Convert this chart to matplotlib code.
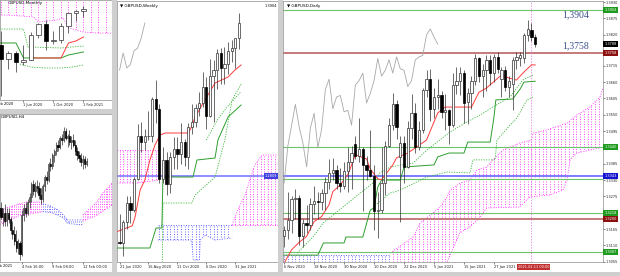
import matplotlib
matplotlib.use("Agg")
import matplotlib.pyplot as plt
import numpy as np
from matplotlib.patches import Polygon, Rectangle
from matplotlib.transforms import blended_transform_factory

W, H = 620, 276

EDGE = "#303030"
RED = "#ff3b3b"
GREEN = "#2e9e2e"
DOT_GREEN = "#3cb83c"
LEVEL_GREEN = "#6cc46c"
LEVEL_RED = "#c47a7a"
LEVEL_BLUE = "#7b7bff"
MAGENTA = "#ff33ff"
BLUE = "#5a5aff"
CHIKOU = "#a8a8a8"
BAND = "#cfcfcf"
TICK_FS = 2.6

# ---------------- Daily (6 Nov 2020 .. 12 Feb 2021) ----------------
daily_open = [1.3140, 1.3160, 1.3195, 1.3265, 1.3270, 1.3140, 1.3185, 1.3180, 1.3250, 1.3260,
              1.3255, 1.3285, 1.3325, 1.3355, 1.3365, 1.3320, 1.3310, 1.3360, 1.3390, 1.3450,
              1.3410, 1.3435, 1.3380, 1.3365, 1.3345, 1.3225, 1.3230, 1.3320, 1.3445, 1.3515,
              1.3585, 1.3408, 1.3455, 1.3375, 1.3505, 1.3555, 1.3440, 1.3500, 1.3635, 1.3670,
              1.3570, 1.3610, 1.3615, 1.3560, 1.3565, 1.3515, 1.3650, 1.3665, 1.3690, 1.3592,
              1.3622, 1.3665, 1.3740, 1.3680, 1.3700, 1.3735, 1.3690, 1.3745, 1.3672, 1.3700,
              1.3645, 1.3655, 1.3735, 1.3740, 1.3740, 1.3819, 1.3836, 1.3812]
daily_high = [1.3175, 1.3290, 1.3275, 1.3300, 1.3280, 1.3200, 1.3245, 1.3270, 1.3310, 1.3290,
              1.3300, 1.3340, 1.3400, 1.3405, 1.3380, 1.3370, 1.3390, 1.3440, 1.3445, 1.3480,
              1.3540, 1.3440, 1.3410, 1.3500, 1.3380, 1.3290, 1.3440, 1.3460, 1.3540, 1.3625,
              1.3600, 1.3480, 1.3480, 1.3530, 1.3620, 1.3590, 1.3530, 1.3640, 1.3700, 1.3705,
              1.3640, 1.3670, 1.3630, 1.3620, 1.3570, 1.3690, 1.3710, 1.3710, 1.3700, 1.3640,
              1.3680, 1.3755, 1.3745, 1.3720, 1.3750, 1.3750, 1.3755, 1.3760, 1.3710, 1.3715,
              1.3680, 1.3745, 1.3760, 1.3760, 1.3825, 1.3869, 1.3860, 1.3822]
daily_low = [1.3105, 1.3130, 1.3150, 1.3200, 1.3110, 1.3105, 1.3150, 1.3160, 1.3215, 1.3200,
             1.3230, 1.3230, 1.3300, 1.3330, 1.3300, 1.3290, 1.3300, 1.3290, 1.3300, 1.3400,
             1.3390, 1.3225, 1.3330, 1.3340, 1.3160, 1.3135, 1.3220, 1.3280, 1.3440, 1.3500,
             1.3470, 1.3190, 1.3320, 1.3370, 1.3470, 1.3420, 1.3430, 1.3490, 1.3610, 1.3530,
             1.3540, 1.3570, 1.3540, 1.3500, 1.3450, 1.3510, 1.3620, 1.3615, 1.3522, 1.3520,
             1.3570, 1.3650, 1.3660, 1.3610, 1.3630, 1.3650, 1.3660, 1.3690, 1.3610, 1.3630,
             1.3610, 1.3565, 1.3705, 1.3715, 1.3725, 1.3800, 1.3800, 1.3780]
daily_close = [1.3160, 1.3195, 1.3265, 1.3270, 1.3140, 1.3185, 1.3180, 1.3250, 1.3260, 1.3255,
               1.3285, 1.3325, 1.3355, 1.3365, 1.3320, 1.3310, 1.3360, 1.3390, 1.3420, 1.3410,
               1.3435, 1.3380, 1.3365, 1.3345, 1.3225, 1.3230, 1.3320, 1.3445, 1.3515, 1.3585,
               1.3510, 1.3455, 1.3375, 1.3505, 1.3555, 1.3440, 1.3500, 1.3635, 1.3670, 1.3570,
               1.3610, 1.3615, 1.3560, 1.3565, 1.3515, 1.3650, 1.3665, 1.3690, 1.3590, 1.3622,
               1.3665, 1.3740, 1.3680, 1.3700, 1.3735, 1.3690, 1.3745, 1.3705, 1.3700, 1.3645,
               1.3665, 1.3735, 1.3745, 1.3750, 1.3819, 1.3839, 1.3812, 1.3788]
daily_tick_pos = [0, 8, 16, 24, 32, 40, 48, 56]
daily_tick_labels = ["6 Nov 2020", "18 Nov 2020", "30 Nov 2020", "10 Dec 2020",
                     "22 Dec 2020", "5 Jan 2021", "15 Jan 2021", "27 Jan 2021"]
daily_price_ticks = [1.3930, 1.3875, 1.3820, 1.3715, 1.3660, 1.3605, 1.3550, 1.3495,
                     1.3385, 1.3330, 1.3275, 1.3165, 1.3110, 1.3055]
daily_tenkan = [(0, 1.3050), (2, 1.3095), (4, 1.3120), (6, 1.3140), (8, 1.3190), (10, 1.3207),
                (12, 1.3247), (13, 1.3291), (15, 1.3314), (17, 1.3348), (18, 1.3381), (19, 1.3415),
                (22, 1.3401), (23, 1.3367), (25, 1.3334), (26, 1.3331), (27, 1.3348), (29, 1.3381),
                (30, 1.3405), (33, 1.3421), (35, 1.3438), (38, 1.3465), (41, 1.3556), (43, 1.3576),
                (50, 1.3576), (52, 1.3626), (54, 1.3640), (58, 1.3684), (60, 1.3674), (62, 1.3667),
                (64, 1.3694), (66, 1.3718), (67, 1.3718)]
daily_kijun = [(0, 1.3077), (9, 1.3077), (10.5, 1.3118), (16, 1.3118), (16.5, 1.3138), (21, 1.3138),
               (23, 1.3229), (24, 1.3236), (25, 1.3307), (26, 1.3330), (31, 1.3330), (32, 1.3374),
               (40, 1.3381), (41, 1.3408), (44, 1.3421), (48, 1.3421), (49, 1.3458), (55, 1.3458),
               (56, 1.3542), (56.5, 1.3600), (61, 1.3603), (63, 1.3637), (64, 1.3660), (67, 1.3663)]
daily_dotted_1 = [(3.5, 1.3084), (7.7, 1.3138), (10.4, 1.3185), (20.3, 1.3286), (23.7, 1.3320),
                  (25.6, 1.3354), (28.3, 1.3374), (34.4, 1.3387), (38.1, 1.3431), (44.3, 1.3492),
                  (48.8, 1.3526), (52.3, 1.3549), (55.7, 1.3576), (60.3, 1.3610), (63.7, 1.3667),
                  (66.4, 1.3684)]
daily_dotted_2 = [(23.7, 1.3239), (28.3, 1.3286), (30.9, 1.3296), (38.1, 1.3340), (43.5, 1.3357),
                  (49.6, 1.3354), (50.4, 1.3398), (56.3, 1.3398), (56.8, 1.3465), (60.3, 1.3515),
                  (62.1, 1.3539), (64.8, 1.3600), (66.4, 1.3610)]
daily_cloud_blue_top = [(-0.3, 1.3077), (28.3, 1.3077)]
daily_cloud_blue_bottom = [(-0.3, 1.3040), (28.3, 1.3040)]
daily_cloud_top = [(28.3, 1.3084), (34.4, 1.3138), (36.3, 1.3185), (39.7, 1.3219), (41.6, 1.3239),
                   (43.5, 1.3273), (44.3, 1.3296), (47, 1.3320), (49.6, 1.3330), (51.5, 1.3364),
                   (54.1, 1.3374), (55.7, 1.3398), (58.4, 1.3431), (63, 1.3455), (66, 1.3465),
                   (66.4, 1.3488), (70.1, 1.3499), (75.5, 1.3522), (78.1, 1.3549), (81.6, 1.3576),
                   (84.3, 1.3610), (85.1, 1.3640)]
daily_cloud_bottom = [(28.3, 1.3040), (43, 1.3040), (44.3, 1.3077), (46.9, 1.3152), (49.6, 1.3172),
                      (52.3, 1.3205), (54.1, 1.3236), (62.9, 1.3239), (65.6, 1.3273), (70.9, 1.3280),
                      (74.4, 1.3296), (75.5, 1.3330), (76.3, 1.3398), (78.1, 1.3421), (81.6, 1.3431),
                      (85.1, 1.3441)]
level_prices = [1.3904, 1.3758, 1.3440, 1.3343, 1.3335, 1.3218, 1.3200, 1.3087]
level_kinds = ["green", "red", "green", "blue", "green", "green", "red", "green"]
box_prices = [1.3904, 1.3788, 1.3758, 1.3440, 1.3343, 1.3218, 1.3200, 1.3087]
box_colors = ["#1e9a1e", "#000000", "#8b1010", "#1e9a1e", "#1515d0", "#1e9a1e", "#8b1010", "#1e9a1e"]
current_bar = 66

# ---------------- Weekly (21 Jun 2020 .. 7 Feb 2021) ----------------
weekly_open = [1.2350, 1.2340, 1.2485, 1.2620, 1.2570, 1.2790, 1.3090, 1.3050, 1.3090, 1.3090,
               1.3350, 1.3280, 1.2790, 1.2920, 1.2750, 1.2940, 1.3000, 1.2960, 1.3050, 1.2940,
               1.3150, 1.3190, 1.3285, 1.3320, 1.3435, 1.3227, 1.3510, 1.3550, 1.3670, 1.3565,
               1.3590, 1.3685, 1.3705, 1.3775]
weekly_high = [1.2540, 1.2500, 1.2670, 1.2670, 1.2800, 1.3170, 1.3185, 1.3140, 1.3265, 1.3360,
               1.3482, 1.3310, 1.3010, 1.2980, 1.2980, 1.3080, 1.3080, 1.3180, 1.3070, 1.3180,
               1.3312, 1.3310, 1.3400, 1.3540, 1.3500, 1.3625, 1.3620, 1.3700, 1.3705, 1.3710,
               1.3745, 1.3760, 1.3760, 1.3950]
weekly_low = [1.2330, 1.2252, 1.2440, 1.2480, 1.2560, 1.2780, 1.2980, 1.2990, 1.3060, 1.3050,
              1.3180, 1.2760, 1.2760, 1.2675, 1.2690, 1.2860, 1.2860, 1.2890, 1.2880, 1.2855,
              1.3105, 1.3150, 1.3230, 1.3290, 1.3135, 1.3220, 1.3190, 1.3420, 1.3450, 1.3450,
              1.3520, 1.3610, 1.3565, 1.3700]
weekly_close = [1.2340, 1.2485, 1.2620, 1.2570, 1.2790, 1.3090, 1.3050, 1.3090, 1.3090, 1.3350,
                1.3280, 1.2790, 1.2920, 1.2750, 1.2940, 1.3000, 1.2960, 1.3050, 1.2940, 1.3150,
                1.3190, 1.3285, 1.3320, 1.3435, 1.3227, 1.3510, 1.3550, 1.3670, 1.3565, 1.3590,
                1.3685, 1.3705, 1.3775, 1.3880]
weekly_tick_pos = [0, 8, 16, 24, 32]
weekly_tick_labels = ["21 Jun 2020", "16 Aug 2020", "11 Oct 2020", "6 Dec 2020", "31 Jan 2021"]
weekly_tenkan = [(-0.7, 1.2420), (3.5, 1.2460), (4.3, 1.2522), (5.7, 1.2711), (7.0, 1.2781),
                 (8.4, 1.2921), (9.8, 1.3026), (11.2, 1.3096), (12.6, 1.3110), (18.6, 1.3110),
                 (19.5, 1.3131), (20.9, 1.3222), (23.6, 1.3341), (26.4, 1.3460), (30.0, 1.3502),
                 (31.9, 1.3551), (33.6, 1.3586)]
weekly_kijun = [(-0.7, 1.2305), (8.4, 1.2305), (10.1, 1.2445), (11.7, 1.2445), (12.0, 1.2802),
                (20.3, 1.2802), (21.4, 1.2921), (26.4, 1.2935), (27.2, 1.3061), (30.0, 1.3222),
                (33.6, 1.3306)]
weekly_dotted_1 = [(11.8, 1.2150), (12.0, 1.2620), (20.0, 1.2620), (20.9, 1.2676), (26.4, 1.2802),
                   (29.1, 1.3061), (31.1, 1.3341), (33.8, 1.3460)]
weekly_dotted_2 = [(24.0, 1.3061), (27.0, 1.3200), (30.0, 1.3300), (33.6, 1.3400)]
weekly_cloud1_top = [(-0.7, 1.2991), (10.6, 1.2991)]
weekly_cloud1_bottom = [(-0.7, 1.2760), (5, 1.2760), (10.6, 1.2780)]
weekly_cloud2_top = [(10.6, 1.2466), (31.1, 1.2466)]
weekly_cloud2_bottom = [(10.6, 1.2361), (19.9, 1.2361), (20.4, 1.2221), (22.1, 1.2221), (22.3, 1.2361),
                        (23.6, 1.2396), (26.4, 1.2361), (31.1, 1.2375)]
weekly_cloud3_top = [(31.1, 1.2466), (32.7, 1.2571), (34.7, 1.2676), (36.0, 1.2781), (37.4, 1.2886),
                     (39.4, 1.2956), (43.8, 1.2956)]
weekly_cloud3_bottom = [(31.1, 1.2466), (43.8, 1.2466)]
weekly_level = 1.2809

# ---------------- Monthly (Mar 2020 .. Feb 2021) ----------------
monthly_open = [1.2820, 1.2420, 1.2590, 1.2340, 1.2400, 1.3090, 1.3370, 1.2920, 1.2950, 1.3320, 1.3670, 1.3730]
monthly_high = [1.3200, 1.2650, 1.2650, 1.2813, 1.3170, 1.3400, 1.3480, 1.3175, 1.3400, 1.3680, 1.3760, 1.3865]
monthly_low = [1.1410, 1.2160, 1.2075, 1.2252, 1.2400, 1.3000, 1.2675, 1.2840, 1.2850, 1.3140, 1.3450, 1.3570]
monthly_close = [1.2420, 1.2590, 1.2340, 1.2400, 1.3090, 1.3370, 1.2920, 1.2950, 1.3320, 1.3670, 1.3730, 1.3788]
monthly_tick_pos = [-1, 3, 7, 11]
monthly_tick_labels = ["1 Feb 2020", "1 Jun 2020", "1 Oct 2020", "1 Feb 2021"]
monthly_tenkan = [(4, 1.2455), (8, 1.2455), (9, 1.2862), (10, 1.2917), (11, 1.3025)]
monthly_kijun = [(-1, 1.2862), (2, 1.2862), (3, 1.2455), (8, 1.2455), (9, 1.2536), (11, 1.2618)]
monthly_dotted_1 = [(-1, 1.3240), (3, 1.3240), (3.6, 1.2754), (8, 1.2726), (11, 1.2781)]
monthly_dotted_2 = [(2.5, 1.2290), (4, 1.2210), (6, 1.2183), (8, 1.2183), (9.5, 1.2210), (11, 1.2265)]
monthly_cloud_top = [(-1, 1.4500), (15, 1.4500)]
monthly_cloud_bottom = [(-1, 1.3620), (1, 1.3620), (4.3, 1.3570), (5, 1.3430), (7.5, 1.3490),
                        (8.3, 1.3540), (9, 1.3270), (11, 1.3160), (13, 1.3130), (15, 1.3130)]

# ---------------- H4 (bars 4 .. 50 counted from 2 Feb 2021 00:00) ----------------
h4_first = 4
h4_open = [1.3665, 1.3680, 1.3660, 1.3670, 1.3650, 1.3668, 1.3655, 1.3630, 1.3620, 1.3605,
           1.3590, 1.3600, 1.3575, 1.3665, 1.3680, 1.3670, 1.3695, 1.3705, 1.3735, 1.3720,
           1.3730, 1.3725, 1.3710, 1.3700, 1.3730, 1.3750, 1.3745, 1.3780, 1.3775, 1.3800,
           1.3810, 1.3825, 1.3820, 1.3840, 1.3835, 1.3855, 1.3840, 1.3845, 1.3830, 1.3835,
           1.3825, 1.3810, 1.3800, 1.3795, 1.3785, 1.3792, 1.3780]
h4_high = [1.3690, 1.3695, 1.3680, 1.3690, 1.3680, 1.3680, 1.3660, 1.3650, 1.3640, 1.3630,
           1.3610, 1.3605, 1.3675, 1.3690, 1.3695, 1.3700, 1.3715, 1.3740, 1.3745, 1.3740,
           1.3745, 1.3740, 1.3725, 1.3735, 1.3755, 1.3765, 1.3785, 1.3795, 1.3805, 1.3815,
           1.3830, 1.3835, 1.3845, 1.3850, 1.3865, 1.3862, 1.3850, 1.3858, 1.3845, 1.3848,
           1.3835, 1.3820, 1.3810, 1.3805, 1.3800, 1.3798, 1.3795]
h4_low = [1.3650, 1.3655, 1.3640, 1.3640, 1.3640, 1.3645, 1.3620, 1.3610, 1.3595, 1.3580,
          1.3575, 1.3562, 1.3570, 1.3650, 1.3660, 1.3665, 1.3680, 1.3695, 1.3710, 1.3705,
          1.3715, 1.3700, 1.3690, 1.3695, 1.3720, 1.3735, 1.3740, 1.3765, 1.3770, 1.3785,
          1.3800, 1.3810, 1.3815, 1.3825, 1.3830, 1.3835, 1.3820, 1.3825, 1.3815, 1.3820,
          1.3800, 1.3790, 1.3785, 1.3775, 1.3770, 1.3772, 1.3775]
h4_close = [1.3680, 1.3660, 1.3670, 1.3650, 1.3668, 1.3655, 1.3630, 1.3620, 1.3605, 1.3590,
            1.3600, 1.3575, 1.3665, 1.3680, 1.3670, 1.3695, 1.3705, 1.3735, 1.3720, 1.3730,
            1.3725, 1.3710, 1.3700, 1.3730, 1.3750, 1.3745, 1.3780, 1.3775, 1.3800, 1.3810,
            1.3825, 1.3820, 1.3840, 1.3835, 1.3855, 1.3840, 1.3845, 1.3830, 1.3835, 1.3825,
            1.3810, 1.3800, 1.3795, 1.3785, 1.3792, 1.3780, 1.3788]
h4_tick_pos = [0, 16, 32, 48]
h4_tick_labels = ["2 Feb 2021", "4 Feb 16:00", "9 Feb 08:00", "12 Feb 00:00"]
h4_cloud1_top = [(4.4, 1.3676), (18, 1.3694), (27, 1.3694)]
h4_cloud1_bottom = [(4.4, 1.3642), (10, 1.3653), (14, 1.3662), (18, 1.3665), (27, 1.3672)]
h4_cloud2_top = [(27, 1.3690), (31, 1.3685), (35, 1.3676), (38, 1.3664), (40, 1.3653), (48, 1.3653)]
h4_cloud2_bottom = [(27, 1.3672), (31, 1.3670), (35, 1.3664), (38, 1.3657), (40, 1.3645), (48, 1.3642)]
h4_cloud3_top = [(48, 1.3664), (55.5, 1.3694), (58.7, 1.3715), (63.4, 1.3737)]
h4_cloud3_bottom = [(48, 1.3650), (55.5, 1.3664), (63.4, 1.3687)]


def place(fig, x0, y0, x1, y1):
    return fig.add_axes([x0 / W, 1 - y1 / H, (x1 - x0) / W, (y1 - y0) / H])


def style(ax):
    ax.set_facecolor("white")
    for s in ax.spines.values():
        s.set_color("#8c8c8c")
        s.set_linewidth(0.5)
    ax.tick_params(labelsize=TICK_FS, length=1.5, width=0.4, pad=1, colors="#202020")
    ax.set_yticks([])


def draw_candles(ax, o, h, l, c, width, first=0):
    o, h, l, c = (np.asarray(a) for a in (o, h, l, c))
    x = first + np.arange(len(o))
    up = c >= o
    ax.vlines(x, l, h, color=EDGE, lw=0.5, zorder=4)
    ax.bar(x[up], (c - o)[up], bottom=o[up], width=width, color="white",
           edgecolor=EDGE, lw=0.5, zorder=5)
    ax.bar(x[~up], (o - c)[~up], bottom=c[~up], width=width, color="black",
           edgecolor="black", lw=0.5, zorder=5)


def draw_line(ax, pts, color, lw=0.7, ls="-", z=3):
    pts = np.asarray(pts)
    ax.plot(pts[:, 0], pts[:, 1], color=color, lw=lw, ls=ls, zorder=z)


def draw_cloud(ax, top, bottom, color):
    top, bottom = np.asarray(top), np.asarray(bottom)
    patch = Polygon(np.vstack([top, bottom[::-1]]), closed=True, fc="none", ec="none")
    ax.add_patch(patch)
    lo, hi = ax.get_ylim()
    xs = np.arange(np.ceil(top[0, 0]), top[-1, 0] + 0.01)
    dots = (0, (1.2, 1.8))
    vl = ax.vlines(xs, lo, hi, colors=color, lw=0.6, linestyles=dots, zorder=1)
    vl.set_clip_path(patch)
    ax.plot(top[:, 0], top[:, 1], color=color, lw=0.6, ls=dots, zorder=1)
    ax.plot(bottom[:, 0], bottom[:, 1], color=color, lw=0.6, ls=dots, zorder=1)


def x_labels(ax, pos, labels):
    ax.set_xticks(pos)
    ax.set_xticklabels(labels, ha="left")


fig = plt.figure(figsize=(W / 100, H / 100), dpi=100)
fig.patch.set_facecolor("white")

# separators between the chart windows
for (x0, y0, x1, y1) in [(112, 0, 117, 276), (278, 0, 283, 276), (0, 109, 112, 114), (0, 272, 620, 276)]:
    fig.add_artist(Rectangle((x0 / W, 1 - y1 / H), (x1 - x0) / W, (y1 - y0) / H,
                             transform=fig.transFigure, color=BAND, lw=0))

# ---------- Daily ----------
ax = place(fig, 283, 1, 603, 262)
style(ax)
ax.set_xlim(-0.3, 85.1)
ax.set_ylim(1.30538, 1.39334)
draw_cloud(ax, daily_cloud_blue_top, daily_cloud_blue_bottom, BLUE)
draw_cloud(ax, daily_cloud_top, daily_cloud_bottom, MAGENTA)
for p, kind in zip(level_prices, level_kinds):
    if kind == "green":
        ax.axhline(p, color=LEVEL_GREEN, lw=0.8, zorder=2)
    elif kind == "red":
        ax.axhline(p, color=LEVEL_RED, lw=1.4, zorder=2)
    else:
        ax.axhline(p, color=LEVEL_BLUE, lw=1.4, zorder=2)
closes = np.asarray(daily_close)
ax.plot(np.arange(len(closes) - 26), closes[26:], color=CHIKOU, lw=0.6, zorder=2)
draw_line(ax, daily_dotted_1, DOT_GREEN, lw=0.6, ls=(0, (1.5, 1.5)))
draw_line(ax, daily_dotted_2, DOT_GREEN, lw=0.6, ls=(0, (1.5, 1.5)))
draw_line(ax, daily_kijun, GREEN, lw=0.7)
draw_line(ax, daily_tenkan, RED, lw=0.7)
draw_candles(ax, daily_open, daily_high, daily_low, daily_close, 0.62)
ax.axvline(current_bar, color="#e070e0", lw=0.5, ls=(0, (2, 2)), zorder=2)
ax.yaxis.tick_right()
ax.set_yticks(daily_price_ticks)
ax.set_yticklabels([f"{t:.4f}" for t in daily_price_ticks])
ax.tick_params(axis="y", labelsize=2.5, length=1.2, pad=1)
x_labels(ax, daily_tick_pos, daily_tick_labels)
tr = blended_transform_factory(ax.transAxes, ax.transData)
for p, col in zip(box_prices, box_colors):
    ax.text(1.004, p, f"{p:.4f}", transform=tr, fontsize=2.5, color="white", va="center",
            ha="left", clip_on=False, zorder=10,
            bbox=dict(boxstyle="square,pad=0.3", fc=col, ec="none"))
trx = blended_transform_factory(ax.transData, ax.transAxes)
ax.text(current_bar + 0.6, -0.012, "2021.02.11 00:00", transform=trx, fontsize=2.5, color="white",
        va="top", ha="center", clip_on=False, zorder=10,
        bbox=dict(boxstyle="square,pad=0.25", fc="#c0302f", ec="none"))
ax.text(77.9, 1.3886, "1,3904", fontsize=7, color="#3b4f8c", family="Liberation Serif",
        ha="center", va="center", zorder=6)
ax.text(77.9, 1.3781, "1,3758", fontsize=7, color="#3b4f8c", family="Liberation Serif",
        ha="center", va="center", zorder=6)
ax.text(0.012, 0.988, "\u25bc GBPUSD,Daily", transform=ax.transAxes, fontsize=3,
        va="top", ha="left", zorder=10)

# ---------- Weekly ----------
ax = place(fig, 117, 1, 278, 262)
style(ax)
ax.set_xlim(-0.7, 43.8)
ax.set_ylim(1.2207, 1.4034)
draw_cloud(ax, weekly_cloud1_top, weekly_cloud1_bottom, MAGENTA)
draw_cloud(ax, weekly_cloud2_top, weekly_cloud2_bottom, BLUE)
draw_cloud(ax, weekly_cloud3_top, weekly_cloud3_bottom, MAGENTA)
ax.axhline(weekly_level, color=LEVEL_BLUE, lw=1.2, zorder=2)
wc = np.asarray(weekly_close)
ax.plot(np.arange(len(wc) - 26), wc[26:], color=CHIKOU, lw=0.6, zorder=2)
draw_line(ax, weekly_dotted_1, DOT_GREEN, lw=0.6, ls=(0, (1.5, 1.5)))
draw_line(ax, weekly_dotted_2, DOT_GREEN, lw=0.6, ls=(0, (1.5, 1.5)))
draw_line(ax, weekly_kijun, GREEN, lw=0.7)
draw_line(ax, weekly_tenkan, RED, lw=0.7)
draw_candles(ax, weekly_open, weekly_high, weekly_low, weekly_close, 0.62)
x_labels(ax, weekly_tick_pos, weekly_tick_labels)
ax.text(0.995, weekly_level, f"{weekly_level:.4f}", transform=blended_transform_factory(ax.transAxes, ax.transData),
        fontsize=2.5, color="white", va="center", ha="right", zorder=10,
        bbox=dict(boxstyle="square,pad=0.3", fc="#4040e0", ec="none"))
ax.text(0.995, 0.99, "1.3904", transform=ax.transAxes, fontsize=2.5, va="top", ha="right", zorder=10)
ax.text(0.02, 0.99, "\u25bc GBPUSD,Weekly", transform=ax.transAxes, fontsize=3,
        va="top", ha="left", zorder=10)

# ---------- Monthly ----------
ax = place(fig, 0, 0, 112, 100)
style(ax)
ax.set_xlim(-0.13, 14.8)
ax.set_ylim(1.1314, 1.4029)
draw_cloud(ax, monthly_cloud_top, monthly_cloud_bottom, MAGENTA)
draw_line(ax, monthly_dotted_1, DOT_GREEN, lw=0.6, ls=(0, (1.5, 1.5)))
draw_line(ax, monthly_dotted_2, DOT_GREEN, lw=0.6, ls=(0, (1.5, 1.5)))
draw_line(ax, monthly_kijun, GREEN, lw=0.7)
draw_line(ax, monthly_tenkan, RED, lw=0.7)
draw_candles(ax, monthly_open, monthly_high, monthly_low, monthly_close, 0.55)
x_labels(ax, monthly_tick_pos[1:], monthly_tick_labels[1:])
ax.text(monthly_tick_pos[0], -0.02, monthly_tick_labels[0],
        transform=blended_transform_factory(ax.transData, ax.transAxes),
        fontsize=TICK_FS, va="top", ha="left", clip_on=False)
ax.text(0.07, 0.99, "GBPUSD,Monthly", transform=ax.transAxes, fontsize=3,
        va="top", ha="left", zorder=0)

# ---------- H4 ----------
ax = place(fig, 0, 114, 112, 262)
style(ax)
ax.set_xlim(4.47, 63.4)
ax.set_ylim(1.35572, 1.38946)
draw_cloud(ax, h4_cloud1_top, h4_cloud1_bottom, MAGENTA)
draw_cloud(ax, h4_cloud2_top, h4_cloud2_bottom, BLUE)
draw_cloud(ax, h4_cloud3_top, h4_cloud3_bottom, MAGENTA)
draw_candles(ax, h4_open, h4_high, h4_low, h4_close, 0.6, first=h4_first)
x_labels(ax, h4_tick_pos[1:], h4_tick_labels[1:])
ax.text(h4_tick_pos[0], -0.012, h4_tick_labels[0],
        transform=blended_transform_factory(ax.transData, ax.transAxes),
        fontsize=TICK_FS, va="top", ha="left", clip_on=False)
ax.text(0.01, 0.99, "GBPUSD,H4", transform=ax.transAxes, fontsize=3,
        va="top", ha="left", zorder=10)

fig.savefig("out.png", dpi=100)
